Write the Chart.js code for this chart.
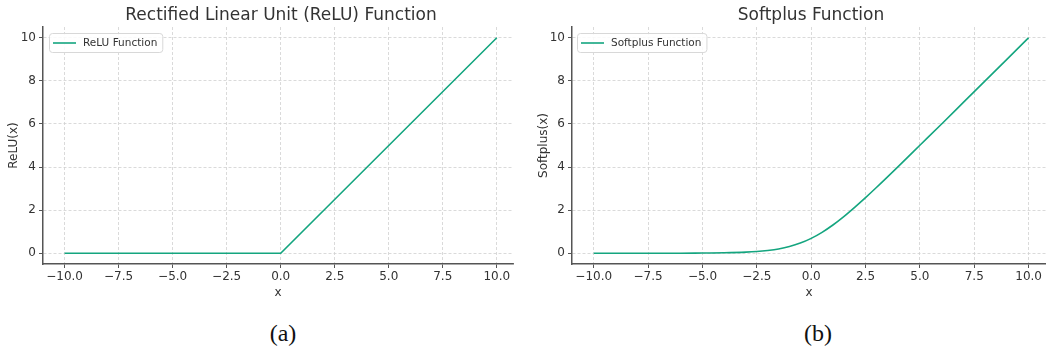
<!DOCTYPE html>
<html lang="en">
<head>
    <meta charset="UTF-8">
    <title>ReLU and Softplus</title>
    <style>
        body {
            margin: 0;
            background-color: #fff;
            width: 1046px;
            height: 354px;
            position: relative;
            overflow: hidden;
            font-family: "DejaVu Sans", sans-serif;
        }
        .chart-box {
            position: absolute;
            top: 0;
            height: 300px;
        }
        .caption {
            position: absolute;
            top: 320px;
            font-family: "Liberation Serif", "Times New Roman", serif;
            font-size: 24px;
            color: #111;
            transform: translateX(-50%);
        }
    </style>
</head>
<body>
    <div class="chart-box" style="left:0; width:530px;"><canvas id="reluChart"></canvas></div>
    <div class="chart-box" style="left:530px; width:516px;"><canvas id="softplusChart"></canvas></div>
    <div class="caption" style="left:283px;">(a)</div>
    <div class="caption" style="left:818px;">(b)</div>
    <script src="https://cdn.jsdelivr.net/npm/chart.js"></script>
    <script>
        // values
        const reluX = [-10, 0, 10];
        const reluY = [0, 0, 10];

        const softplusX = [-10, -9, -8, -7, -6, -5, -4, -3, -2.5, -2, -1.5, -1, -0.5, 0, 0.5, 1, 1.5, 2, 2.5, 3, 4, 5, 6, 7, 8, 9, 10];
        const softplusY = [0, 0, 0, 0, 0, 0.01, 0.02, 0.05, 0.08, 0.13, 0.2, 0.31, 0.47, 0.69, 0.97, 1.31, 1.7, 2.13, 2.58, 3.05, 4.02, 5.01, 6.0, 7.0, 8.0, 9.0, 10.0];

        const xTicks = [-10, -7.5, -5, -2.5, 0, 2.5, 5, 7.5, 10];
        const xTickLabels = ['\u221210.0', '\u22127.5', '\u22125.0', '\u22122.5', '0.0', '2.5', '5.0', '7.5', '10.0'];
        const yTicks = [0, 2, 4, 6, 8, 10];
        const yTickLabels = ['0', '2', '4', '6', '8', '10'];

        const lineColor = '#14a57f';
        const textColor = '#333';
        const gridColor = '#d0d0d0';
        const spineColor = '#555';

        // title centred over the uncropped axes, plus legend drawn inside the plot
        const decorations = {
            id: 'decorations',
            afterDatasetsDraw(chart, args, opts) {
                const ctx = chart.ctx;
                const area = chart.chartArea;
                ctx.save();
                ctx.fillStyle = textColor;
                ctx.font = '17px "DejaVu Sans"';
                ctx.textAlign = 'center';
                ctx.textBaseline = 'middle';
                ctx.fillText(opts.title, opts.titleX, 16);

                const label = chart.data.datasets[0].label;
                ctx.font = '10.5px "DejaVu Sans"';
                const w = ctx.measureText(label).width + 39;
                const bx = area.left + opts.legendDx;
                const by = area.top + 6;
                ctx.fillStyle = 'rgba(255,255,255,0.85)';
                ctx.strokeStyle = '#d8d8d8';
                ctx.lineWidth = 1;
                ctx.beginPath();
                ctx.roundRect(bx + 0.5, by + 0.5, w, 19, 3);
                ctx.fill();
                ctx.stroke();
                ctx.strokeStyle = lineColor;
                ctx.lineWidth = 1.6;
                ctx.beginPath();
                ctx.moveTo(bx + 4, by + 10);
                ctx.lineTo(bx + 27, by + 10);
                ctx.stroke();
                ctx.fillStyle = textColor;
                ctx.textAlign = 'left';
                ctx.fillText(label, bx + 34, by + 10.5);
                ctx.restore();
            }
        };

        function makeChart(id, xs, ys, label, title, yTitle, xMax, yAxisWidth, padRight, titleX, legendDx, smooth) {
            const points = xs.map((x, i) => ({ x: x, y: ys[i] }));
            const dataset = {
                label: label,
                data: points,
                borderColor: lineColor,
                borderWidth: 1.6,
                pointRadius: 0,
                tension: 0,
                fill: false
            };
            if (smooth) dataset.cubicInterpolationMode = 'monotone';
            return new Chart(document.getElementById(id), {
                type: 'line',
                data: { datasets: [dataset] },
                options: {
                    responsive: true,
                    maintainAspectRatio: false,
                    animation: false,
                    layout: { padding: { top: 27, right: padRight, left: 0, bottom: 0 } },
                    plugins: {
                        legend: { display: false },
                        tooltip: { enabled: false },
                        decorations: { title: title, titleX: titleX, legendDx: legendDx }
                    },
                    scales: {
                        x: {
                            type: 'linear',
                            min: -11,
                            max: xMax,
                            afterBuildTicks: s => { s.ticks = xTicks.map(v => ({ value: v })); },
                            afterFit: s => { s.height = 36; },
                            ticks: {
                                color: textColor,
                                font: { family: 'DejaVu Sans', size: 12 },
                                padding: 2,
                                maxRotation: 0,
                                callback: (v) => xTickLabels[xTicks.indexOf(v)]
                            },
                            grid: { color: gridColor, lineWidth: 0.8, tickLength: 4, tickColor: spineColor, tickBorderDash: [], tickWidth: 1 },
                            border: { color: spineColor, width: 1.5, dash: [3, 2] },
                            title: { display: true, text: 'x', color: textColor, font: { family: 'DejaVu Sans', size: 12 }, padding: { top: 0, bottom: 0 } }
                        },
                        y: {
                            min: -0.5,
                            max: 10.5,
                            afterBuildTicks: s => { s.ticks = yTicks.map(v => ({ value: v })); },
                            afterFit: s => { s.width = yAxisWidth; },
                            ticks: {
                                color: textColor,
                                font: { family: 'DejaVu Sans', size: 12 },
                                padding: 3,
                                callback: (v) => yTickLabels[yTicks.indexOf(v)]
                            },
                            grid: { color: gridColor, lineWidth: 0.8, tickLength: 4, tickColor: spineColor, tickBorderDash: [], tickWidth: 1 },
                            border: { color: spineColor, width: 1.5, dash: [3, 2] },
                            title: { display: true, text: yTitle, color: textColor, font: { family: 'DejaVu Sans', size: 12 }, padding: { top: 7, bottom: 0 } }
                        }
                    }
                },
                plugins: [decorations]
            });
        }

        makeChart('reluChart', reluX, reluY, 'ReLU Function', 'Rectified Linear Unit (ReLU) Function', 'ReLU(x)', 10.75, 43, 17, 281, 6, false);
        makeChart('softplusChart', softplusX, softplusY, 'Softplus Function', 'Softplus Function', 'Softplus(x)', 10.8, 42, 0, 281, 5, true);
    </script>
</body>
</html>
